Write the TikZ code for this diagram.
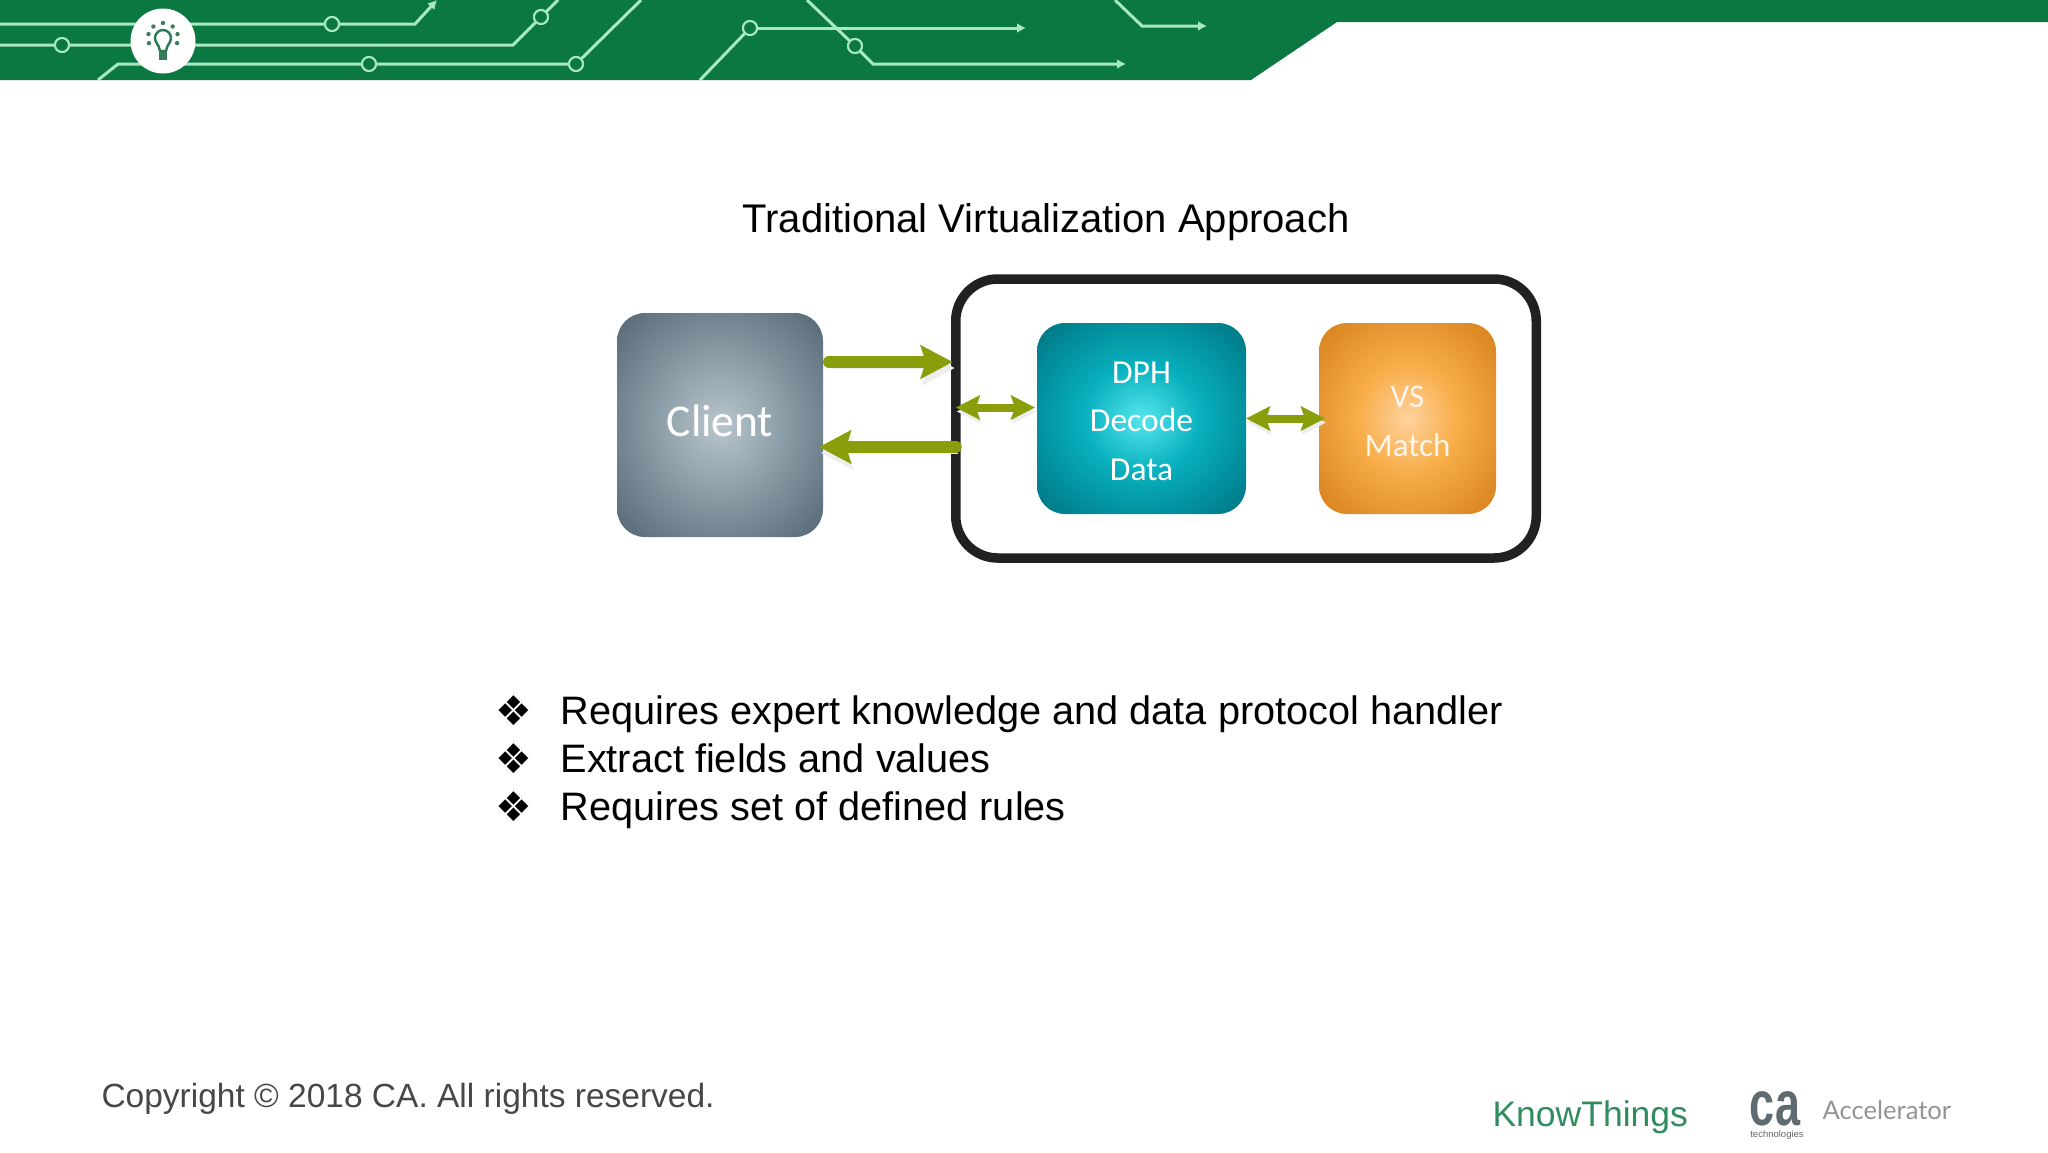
\documentclass[tikz,border=0pt]{standalone}
\usepackage{fontspec}
\setmainfont{Liberation Sans}
\newfontfamily\boxfont{Carlito}
\newfontfamily\symbolfont{DejaVu Sans}
\newfontfamily\logofont{Lato}
\usetikzlibrary{arrows.meta}

\definecolor{bandgreen}{HTML}{0B7842}
\definecolor{tracegreen}{HTML}{A8E8C2}
\definecolor{arrowolive}{HTML}{8A9E0C}
\definecolor{clientin}{HTML}{B8C6CC}
\definecolor{clientmid}{HTML}{8FA1AA}
\definecolor{clientout}{HTML}{5A6D7A}
\definecolor{dphin}{HTML}{55E6EE}
\definecolor{dphmid}{HTML}{08B0BE}
\definecolor{dphout}{HTML}{007A88}
\definecolor{vsin}{HTML}{FFD29E}
\definecolor{vsmid}{HTML}{F8AE4A}
\definecolor{vsout}{HTML}{D98420}
\definecolor{cagrey}{HTML}{5F6B70}

\pgfdeclareradialshading{clientglow}{\pgfpointorigin}{
  color(0bp)=(clientin); color(14bp)=(clientmid); color(33bp)=(clientout); color(50bp)=(clientout)}
\pgfdeclareradialshading{dphglow}{\pgfpointorigin}{
  color(0bp)=(dphin); color(14bp)=(dphmid); color(33bp)=(dphout); color(50bp)=(dphout)}
\pgfdeclareradialshading{vsglow}{\pgfpointorigin}{
  color(0bp)=(vsin); color(14bp)=(vsmid); color(33bp)=(vsout); color(50bp)=(vsout)}

\tikzset{
  via/.style={circle, draw=tracegreen, fill=bandgreen, line width=2pt, minimum width=11pt, minimum height=14pt, inner sep=0pt},
  trace/.style={draw=tracegreen, line width=3pt},
  tracetip/.style={trace, -{Latex[length=9pt,width=10pt]}},
  box/.style={rounded corners=28pt, outer sep=0pt, inner sep=0pt, text=white},
  flow/.style={draw=arrowolive, line width=12pt, line cap=round,
    -{Stealth[length=32pt,width=33pt,inset=5pt]},
    preaction={draw=black!7, transform canvas={xshift=2pt,yshift=-6pt}}},
  dflow/.style={draw=arrowolive, line width=8pt,
    {Stealth[length=24pt,width=24pt,inset=4pt]}-{Stealth[length=24pt,width=24pt,inset=4pt]},
    preaction={draw=black!7, transform canvas={xshift=1pt,yshift=-4pt}}},
  bullet/.style={anchor=center, font=\symbolfont\fontsize{41}{41}\selectfont, text=black},
  point/.style={anchor=base west, font=\fontsize{39.7}{48}\selectfont, text=black}
}

\begin{document}
\begin{tikzpicture}[x=1pt, y=-1pt]
  \useasboundingbox (0,0) rectangle (2048,1152);

  % header band
  \fill[bandgreen] (0,0) -- (2048,0) -- (2048,22) -- (1337,22) -- (1251,80) -- (0,80) -- cycle;

  \node[via] (v1) at (332,24) {};
  \node[via] (v2) at (62,45) {};
  \node[via] (v3) at (541,17) {};
  \node[via] (v4) at (369,64) {};
  \node[via] (v5) at (576,64) {};
  \node[via] (v6) at (750,28) {};
  \node[via] (v7) at (855,46) {};

  \coordinate (t1) at (437,0);
  \coordinate (t2) at (1026,28);
  \coordinate (t3) at (1126,64);
  \coordinate (t4) at (1207,26);

  \draw[tracetip] (0,24) -- (v1) -- (415,24) -- (t1);
  \draw[trace] (0,45) -- (v2) -- (513,45) -- (v3) -- (558,0);
  \draw[trace] (98,80) -- (118,64) -- (v4) -- (v5) -- (641,0);
  \draw[tracetip] (v6) -- (t2);
  \draw[trace] (700,80) -- (v6);
  \draw[trace] (807,0) -- (v7);
  \draw[tracetip] (v7) -- (873,64) -- (t3);
  \draw[tracetip] (1115,0) -- (1142,26) -- (t4);

  \foreach \i in {1,...,7}
  {
    \node[via] at (v\i) {};
  }

  % bulb
  \node[circle, fill=white, minimum width=65pt, inner sep=0pt] (lamp) at (163,41) {};
  \draw[bandgreen!75!gray, line width=2.4pt, line join=round] (160,51) .. controls (159,44) and (155,43) .. (155,38)
    arc[start angle=180, end angle=360, radius=8] .. controls (171,43) and (167,44) .. (166,51) -- cycle;
  \fill[bandgreen!60!gray] (159,52) rectangle (167,60);
  \foreach \a in {-20,15,50,90,130,165,200}
  {
    \fill[bandgreen!55!gray] ([shift={(\a:15pt)}]163,38) circle[radius=2.2];
  }

  % title
  \node[font=\fontsize{40}{48}\selectfont, text=black] (title) at (1046,222) {Traditional Virtualization Approach};

  % diagram
  \node[draw=black!87, line width=9.5pt, rounded corners=42pt, minimum width=580.5pt, minimum height=279pt, outer sep=0pt] (engine) at (1246,418.5) {};

  \node[box, shading=clientglow, minimum width=206pt, minimum height=224pt, font=\boxfont\fontsize{45.5}{48}\selectfont] (client) at (720,425) {\raisebox{8pt}{Client}};
  \node[box, shading=dphglow, minimum width=209pt, minimum height=191pt, align=center, font=\boxfont\fontsize{33.5}{48.5}\selectfont] (dph) at (1141.5,418.5) {\rule{0pt}{27pt}DPH\\Decode\\Data};
  \node[box, shading=vsglow, minimum width=177pt, minimum height=191pt, align=center, font=\boxfont\fontsize{33}{48.5}\selectfont, text=white!92!orange] (vs) at (1407.5,418.5) {\rule{0pt}{27pt}VS\\Match};

  \draw[flow, shorten <=6pt, shorten >=3pt] ([yshift=63pt]client.east) -- ([yshift=63pt]client.east -| engine.west);
  \draw[flow, shorten >=-4pt] ([yshift=-22pt]client.east -| engine.west) -- ([yshift=-22pt]client.east);
  \draw[dflow, shorten >=2pt] ([yshift=11pt]dph.west -| engine.west) -- ([yshift=11pt]dph.west);
  \draw[dflow, shorten >=-6pt] (dph.east) -- (vs.west);

  % bullet points
  \foreach \i/\base/\txt in {1/724/Requires expert knowledge and data protocol handler,
                             2/772/Extract fields and values,
                             3/820/Requires set of defined rules}
  {
    \node[bullet] (b\i) at (514,\base-13) {❖};
    \node[point] (p\i) at (557,\base) {\txt};
  }

  % footer
  \node[anchor=base west, font=\fontsize{33.5}{42}\selectfont, text=black!72] (copyright) at (98,1107) {Copyright © 2018 CA. All rights reserved.};
  \node[anchor=base west, font=\fontsize{35.5}{42}\selectfont, text=bandgreen!85!white] (know) at (1489,1126) {KnowThings};
  \node[anchor=base, yscale=1.4, inner sep=0pt, font=\bfseries\fontsize{45}{45}\selectfont, text=cagrey] (calogo) at (1775,1125) {ca};
  \node[anchor=base, inner sep=0pt, font=\fontsize{9.5}{10}\selectfont, text=black!60] (tech) at (1777,1137) {technologies};
  \node[anchor=base west, font=\logofont\fontsize{25.6}{30}\selectfont, text=black!42] (accel) at (1819,1119) {Accelerator};
\end{tikzpicture}
\end{document}
